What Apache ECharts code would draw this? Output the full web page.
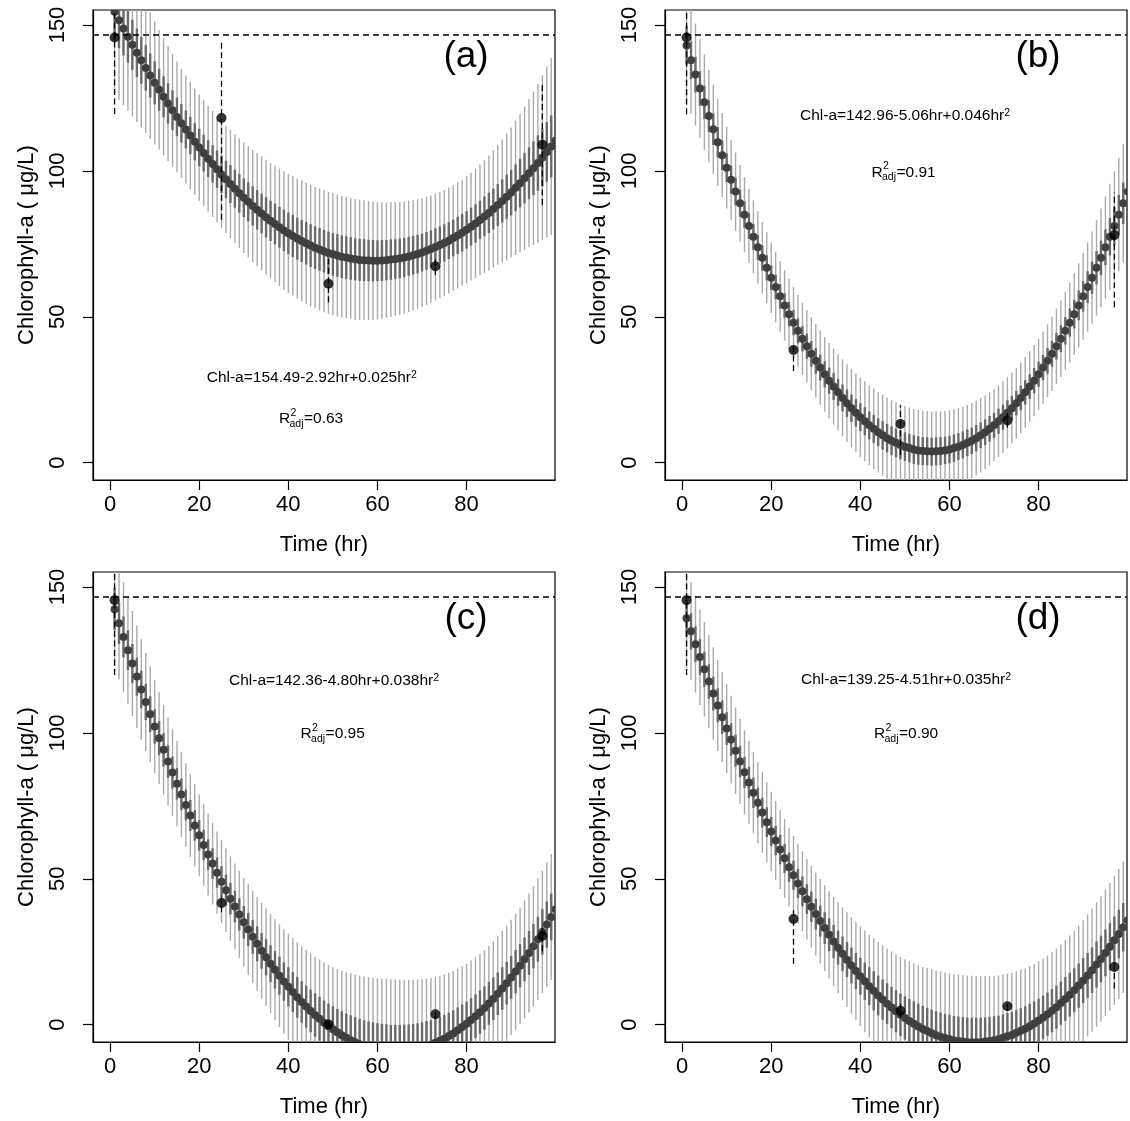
<!DOCTYPE html>
<html>
<head>
<meta charset="utf-8">
<script src="https://cdn.jsdelivr.net/npm/echarts@6/dist/echarts.min.js"></script>
<style>
html,body{margin:0;padding:0;background:#ffffff;}
#chart{width:1130px;height:1121px;}
</style>
</head>
<body>
<div id="chart"></div>
<script>
// ---------------- data ----------------
// x positions (hr) of the fitted dots / interval segments
const hours = [1,2,3,4,5,6,7,8,9,10,11,12,13,14,15,16,17,18,19,20,21,22,23,24,25,26,27,28,29,30,31,32,33,34,35,36,37,38,39,40,41,42,43,44,45,46,47,48,49,50,51,52,53,54,55,56,57,58,59,60,61,62,63,64,65,66,67,68,69,70,71,72,73,74,75,76,77,78,79,80,81,82,83,84,85,86,87,88,89,90,91,92,93,94,95,96,97,98,99,100,101];

const xTicks = [0, 20, 40, 60, 80];
const yTicks = [0, 50, 100, 150];
const refLevel = 146.5;
const obsHours = [1, 25, 49, 73, 97];

// panel (a)
const fitA = [154.5,151.6,148.8,146.0,143.2,140.5,137.9,135.3,132.7,130.2,
127.8,125.4,123.1,120.8,118.5,116.3,114.2,112.1,110.0,108.0,
106.1,104.2,102.4,100.6,98.8,97.1,95.5,93.9,92.3,90.8,
89.4,88.0,86.7,85.4,84.1,82.9,81.8,80.7,79.6,78.6,
77.7,76.8,76.0,75.2,74.4,73.7,73.1,72.5,71.9,71.4,
71.0,70.6,70.3,70.0,69.7,69.5,69.4,69.3,69.2,69.2,
69.3,69.4,69.6,69.8,70.0,70.3,70.7,71.1,71.5,72.0,
72.6,73.2,73.9,74.6,75.3,76.1,77.0,77.9,78.8,79.8,
80.9,82.0,83.2,84.4,85.6,86.9,88.3,89.7,91.1,92.6,
94.2,95.8,97.5,99.2,100.9,102.7,104.6,106.5,108.4,110.4,
112.5];
const outerA = [28.2,27.2,26.3,25.4,24.5,23.7,23.0,22.3,21.7,21.1,
20.5,20.1,19.7,19.3,19.0,18.7,18.5,18.4,18.2,18.2,
18.1,18.1,18.2,18.2,18.3,18.4,18.5,18.6,18.8,18.9,
19.1,19.2,19.4,19.5,19.7,19.8,20.0,20.1,20.3,20.4,
20.5,20.6,20.7,20.7,20.8,20.8,20.9,20.9,20.9,20.9,
20.9,20.8,20.8,20.7,20.7,20.6,20.5,20.4,20.3,20.1,
20.0,19.8,19.7,19.5,19.4,19.2,19.1,18.9,18.8,18.6,
18.5,18.4,18.3,18.2,18.2,18.1,18.1,18.2,18.2,18.4,
18.5,18.7,19.0,19.3,19.7,20.1,20.5,21.1,21.7,22.3,
23.0,23.7,24.5,25.4,26.3,27.2,28.2,29.3,30.4,31.5,
32.7];
const innerA = [9.9,9.5,9.2,8.9,8.6,8.3,8.0,7.8,7.6,7.4,
7.2,7.0,6.9,6.8,6.6,6.6,6.5,6.4,6.4,6.4,
6.3,6.3,6.4,6.4,6.4,6.4,6.5,6.5,6.6,6.6,
6.7,6.7,6.8,6.8,6.9,6.9,7.0,7.0,7.1,7.1,
7.2,7.2,7.2,7.3,7.3,7.3,7.3,7.3,7.3,7.3,
7.3,7.3,7.3,7.3,7.2,7.2,7.2,7.1,7.1,7.0,
7.0,6.9,6.9,6.8,6.8,6.7,6.7,6.6,6.6,6.5,
6.5,6.4,6.4,6.4,6.4,6.3,6.3,6.4,6.4,6.4,
6.5,6.6,6.6,6.8,6.9,7.0,7.2,7.4,7.6,7.8,
8.0,8.3,8.6,8.9,9.2,9.5,9.9,10.2,10.6,11.0,
11.4];
const obsA = [145.7, 118.1, 61.3, 67.3, 109.0];
const obsLoA = [119.5, 83.3, 55.0, 64.3, 88.3];
const obsHiA = [172.0, 144.5, 69.8, 70.5, 130.4];

// panel (b)
const fitB = [143.0,137.9,133.0,128.2,123.5,118.8,114.3,109.8,105.4,101.1,
97.0,92.9,88.9,85.0,81.1,77.4,73.8,70.2,66.8,63.4,
60.2,57.0,53.9,50.9,48.0,45.2,42.5,39.9,37.3,34.9,
32.6,30.3,28.1,26.1,24.1,22.2,20.4,18.7,17.1,15.6,
14.2,12.8,11.6,10.4,9.4,8.4,7.5,6.8,6.1,5.5,
5.0,4.5,4.2,4.0,3.9,3.8,3.9,4.0,4.2,4.5,
5.0,5.5,6.1,6.8,7.5,8.4,9.4,10.4,11.6,12.8,
14.2,15.6,17.1,18.7,20.4,22.2,24.1,26.1,28.1,30.3,
32.6,34.9,37.3,39.9,42.5,45.2,48.0,50.9,53.9,57.0,
60.2,63.4,66.8,70.2,73.8,77.4,81.1,85.0,88.9,92.9,
97.0];
const outerB = [18.8,18.2,17.5,16.9,16.4,15.8,15.3,14.9,14.4,14.0,
13.7,13.4,13.1,12.9,12.7,12.5,12.4,12.2,12.2,12.1,
12.1,12.1,12.1,12.1,12.2,12.3,12.3,12.4,12.5,12.6,
12.7,12.8,12.9,13.0,13.1,13.2,13.3,13.4,13.5,13.6,
13.7,13.7,13.8,13.8,13.9,13.9,13.9,13.9,13.9,13.9,
13.9,13.9,13.9,13.8,13.8,13.7,13.7,13.6,13.5,13.4,
13.3,13.2,13.1,13.0,12.9,12.8,12.7,12.6,12.5,12.4,
12.3,12.3,12.2,12.1,12.1,12.1,12.1,12.1,12.2,12.2,
12.4,12.5,12.7,12.9,13.1,13.4,13.7,14.0,14.4,14.9,
15.3,15.8,16.4,16.9,17.5,18.2,18.8,19.5,20.3,21.0,
21.8];
const innerB = [6.6,6.4,6.1,5.9,5.7,5.5,5.4,5.2,5.1,4.9,
4.8,4.7,4.6,4.5,4.4,4.4,4.3,4.3,4.3,4.2,
4.2,4.2,4.2,4.2,4.3,4.3,4.3,4.3,4.4,4.4,
4.4,4.5,4.5,4.6,4.6,4.6,4.7,4.7,4.7,4.8,
4.8,4.8,4.8,4.8,4.9,4.9,4.9,4.9,4.9,4.9,
4.9,4.9,4.9,4.8,4.8,4.8,4.8,4.8,4.7,4.7,
4.7,4.6,4.6,4.6,4.5,4.5,4.4,4.4,4.4,4.3,
4.3,4.3,4.3,4.2,4.2,4.2,4.2,4.2,4.3,4.3,
4.3,4.4,4.4,4.5,4.6,4.7,4.8,4.9,5.1,5.2,
5.4,5.5,5.7,5.9,6.1,6.4,6.6,6.8,7.1,7.4,
7.6];
const obsB = [145.7, 38.6, 13.3, 14.5, 78.0];
const obsLoB = [119.4, 31.4, 2.6, 12.0, 53.3];
const obsHiB = [172.0, 40.0, 19.6, 17.0, 92.5];

// panel (c)
const fitC = [142.4,137.6,132.9,128.3,123.8,119.3,114.9,110.6,106.4,102.2,
98.2,94.2,90.2,86.4,82.6,78.9,75.3,71.7,68.3,64.9,
61.6,58.3,55.2,52.1,49.0,46.1,43.2,40.5,37.8,35.1,
32.6,30.1,27.7,25.3,23.1,20.9,18.8,16.8,14.8,13.0,
11.2,9.4,7.8,6.2,4.7,3.3,2.0,0.7,-0.5,-1.6,
-2.6,-3.6,-4.5,-5.3,-6.0,-6.7,-7.3,-7.8,-8.2,-8.6,
-8.8,-9.0,-9.2,-9.2,-9.2,-9.1,-8.9,-8.7,-8.3,-7.9,
-7.4,-6.9,-6.2,-5.5,-4.8,-3.9,-3.0,-1.9,-0.8,0.3,
1.6,2.9,4.3,5.7,7.3,8.9,10.6,12.4,14.2,16.2,
18.2,20.2,22.4,24.6,26.9,29.3,31.8,34.3,36.9,39.6,
42.4];
const outerC = [19.5,19.2,18.8,18.4,18.0,17.6,17.2,16.8,16.4,16.0,
15.7,15.4,15.1,14.9,14.7,14.5,14.3,14.2,14.1,14.0,
14.0,14.0,14.0,14.1,14.2,14.3,14.5,14.7,14.9,15.2,
15.5,15.8,16.1,16.4,16.7,17.0,17.3,17.6,17.9,18.2,
18.5,18.8,19.1,19.4,19.7,20.0,20.3,20.6,20.9,21.3,
21.7,22.1,22.5,22.9,23.2,23.5,23.8,24.1,24.3,24.5,
24.6,24.7,24.7,24.7,24.6,24.5,24.3,24.1,23.8,23.5,
23.2,22.9,22.6,22.3,22.0,21.7,21.4,21.1,20.8,20.6,
20.4,20.2,20.0,19.9,19.8,19.7,19.7,19.7,19.7,19.8,
19.9,20.0,20.2,20.4,20.6,20.8,21.0,21.3,21.6,21.9,
22.2];
const innerC = [7.2,7.1,7.0,6.8,6.7,6.5,6.4,6.2,6.1,5.9,
5.8,5.7,5.6,5.5,5.4,5.4,5.3,5.3,5.2,5.2,
5.2,5.2,5.2,5.2,5.3,5.3,5.4,5.4,5.5,5.6,
5.7,5.8,6.0,6.1,6.2,6.3,6.4,6.5,6.6,6.7,
6.8,7.0,7.1,7.2,7.3,7.4,7.5,7.6,7.7,7.9,
8.0,8.2,8.3,8.5,8.6,8.7,8.8,8.9,9.0,9.1,
9.1,9.1,9.1,9.1,9.1,9.1,9.0,8.9,8.8,8.7,
8.6,8.5,8.4,8.3,8.1,8.0,7.9,7.8,7.7,7.6,
7.5,7.5,7.4,7.4,7.3,7.3,7.3,7.3,7.3,7.3,
7.4,7.4,7.5,7.5,7.6,7.7,7.8,7.9,8.0,8.1,
8.2];
const obsC = [145.5, 41.7, 0.1, 3.6, 30.4];
const obsLoC = [119.8, 38.5, -1.0, 2.2, 25.2];
const obsHiC = [172.0, 45.0, 1.2, 5.0, 33.2];

// panel (d)
const fitD = [139.3,134.8,130.4,126.0,121.8,117.6,113.5,109.4,105.4,101.5,
97.7,93.9,90.2,86.5,83.0,79.5,76.1,72.7,69.4,66.2,
63.1,60.0,57.0,54.0,51.2,48.4,45.7,43.0,40.4,37.9,
35.5,33.1,30.8,28.5,26.4,24.3,22.3,20.3,18.4,16.6,
14.9,13.2,11.6,10.0,8.6,7.2,5.9,4.6,3.4,2.3,
1.3,0.3,-0.6,-1.5,-2.2,-2.9,-3.6,-4.1,-4.6,-5.0,
-5.4,-5.6,-5.8,-6.0,-6.0,-6.0,-6.0,-5.8,-5.6,-5.3,
-5.0,-4.5,-4.0,-3.5,-2.8,-2.1,-1.4,-0.5,0.4,1.4,
2.5,3.6,4.8,6.0,7.4,8.8,10.3,11.8,13.4,15.1,
16.9,18.7,20.6,22.5,24.6,26.7,28.9,31.1,33.4,35.8,
38.3];
const outerD = [17.0,16.8,16.6,16.4,16.2,16.0,15.8,15.6,15.4,15.2,
15.0,14.8,14.6,14.4,14.2,14.0,13.9,13.8,13.7,13.6,
13.5,13.5,13.5,13.5,13.5,13.6,13.7,13.8,14.0,14.2,
14.4,14.7,15.0,15.3,15.6,15.9,16.2,16.5,16.8,17.1,
17.4,17.7,18.0,18.3,18.6,18.9,19.2,19.5,19.8,20.1,
20.4,20.7,21.0,21.3,21.6,21.9,22.1,22.3,22.5,22.6,
22.7,22.8,22.8,22.8,22.8,22.7,22.6,22.5,22.3,22.1,
21.9,21.7,21.5,21.3,21.1,20.9,20.7,20.5,20.4,20.3,
20.2,20.1,20.1,20.1,20.1,20.2,20.3,20.4,20.5,20.7,
20.9,21.1,21.3,21.5,21.7,21.9,22.1,22.3,22.5,22.7,
22.9];
const innerD = [6.3,6.2,6.1,6.1,6.0,5.9,5.8,5.8,5.7,5.6,
5.6,5.5,5.4,5.3,5.3,5.2,5.1,5.1,5.1,5.0,
5.0,5.0,5.0,5.0,5.0,5.0,5.1,5.1,5.2,5.3,
5.3,5.4,5.6,5.7,5.8,5.9,6.0,6.1,6.2,6.3,
6.4,6.5,6.7,6.8,6.9,7.0,7.1,7.2,7.3,7.4,
7.5,7.7,7.8,7.9,8.0,8.1,8.2,8.3,8.3,8.4,
8.4,8.4,8.4,8.4,8.4,8.4,8.4,8.3,8.3,8.2,
8.1,8.0,8.0,7.9,7.8,7.7,7.7,7.6,7.5,7.5,
7.5,7.4,7.4,7.4,7.4,7.5,7.5,7.5,7.6,7.7,
7.7,7.8,7.9,8.0,8.0,8.1,8.2,8.3,8.3,8.4,
8.5];
const obsD = [145.5, 36.2, 4.8, 6.3, 19.8];
const obsLoD = [119.8, 20.9, 2.5, 5.0, 12.4];
const obsHiD = [172.0, 40.0, 7.0, 7.6, 22.2];

// texts
const tags = ['(a)', '(b)', '(c)', '(d)'];
const equations = ['Chl-a=154.49-2.92hr+0.025hr', 'Chl-a=142.96-5.06hr+0.046hr', 'Chl-a=142.36-4.80hr+0.038hr', 'Chl-a=139.25-4.51hr+0.035hr'];
const r2Values = ['=0.63', '=0.91', '=0.95', '=0.90'];
const xTitle = 'Time (hr)';
const yTitle = 'Chlorophyll-a ( \u03bcg/L)';

// ---------------- layout / style ----------------
const FONT = '"Liberation Sans", Arial, Helvetica, sans-serif';
const boxes = [
  {left: 93, top: 10}, {left: 665, top: 10},
  {left: 93, top: 572}, {left: 665, top: 572}
];
const BOX_W = 462, BOX_H = 470;
const eqPos = [[206.7, 378], [800, 116], [229, 681], [801, 680]];
const rPos = [[279, 419], [871.5, 172.5], [300.6, 734], [874, 734]];

const panels = [
  {fit: fitA, outer: outerA, inner: innerA, obs: obsA, lo: obsLoA, hi: obsHiA},
  {fit: fitB, outer: outerB, inner: innerB, obs: obsB, lo: obsLoB, hi: obsHiB},
  {fit: fitC, outer: outerC, inner: innerC, obs: obsC, lo: obsLoC, hi: obsHiC},
  {fit: fitD, outer: outerD, inner: innerD, obs: obsD, lo: obsLoD, hi: obsHiD}
];

function segRenderer(color, width, dash) {
  return function (params, api) {
    const x = api.value(0);
    const p1 = api.coord([x, api.value(1)]);
    const p2 = api.coord([x, api.value(2)]);
    const style = {stroke: color, lineWidth: width, fill: null};
    if (dash) style.lineDash = dash;
    return {type: 'line', shape: {x1: p1[0], y1: p1[1], x2: p2[0], y2: p2[1]}, style: style};
  };
}
function dotRenderer(color, r) {
  return function (params, api) {
    const p = api.coord([api.value(0), api.value(1)]);
    return {type: 'circle', shape: {cx: p[0], cy: p[1], r: r}, style: {fill: color}};
  };
}

const grids = [], xAxes = [], yAxes = [], series = [], graphics = [];

panels.forEach(function (p, i) {
  const b = boxes[i];
  grids.push({left: b.left, top: b.top, width: BOX_W, height: BOX_H, show: true,
    borderColor: '#000', borderWidth: 1.2, backgroundColor: 'transparent', containLabel: false});
  xAxes.push({
    type: 'value', gridIndex: i, min: -3.84, max: 99.84,
    axisLine: {show: true, onZero: false, lineStyle: {color: '#000', width: 1.2}},
    axisTick: {show: true, inside: false, length: 10, customValues: xTicks, lineStyle: {color: '#000', width: 1.2}},
    axisLabel: {show: true, customValues: xTicks, fontSize: 22, color: '#000', fontFamily: FONT, margin: 14},
    splitLine: {show: false}
  });
  yAxes.push({
    type: 'value', gridIndex: i, min: -5.93, max: 155.14,
    axisLine: {show: true, onZero: false, lineStyle: {color: '#000', width: 1.2}},
    axisTick: {show: true, inside: false, length: 10, customValues: yTicks, lineStyle: {color: '#000', width: 1.2}},
    axisLabel: {show: true, customValues: yTicks, rotate: 90, fontSize: 22, color: '#000', fontFamily: FONT, margin: 24},
    splitLine: {show: false}
  });

  const outerData = hours.map(function (h, j) { return [h, p.fit[j] - p.outer[j], p.fit[j] + p.outer[j]]; });
  const innerData = hours.map(function (h, j) { return [h, p.fit[j] - p.inner[j], p.fit[j] + p.inner[j]]; });
  const fitData = hours.map(function (h, j) { return [h, p.fit[j]]; });
  const barData = obsHours.map(function (h, j) { return [h, p.lo[j], p.hi[j]]; });
  const obsData = obsHours.map(function (h, j) { return [h, p.obs[j]]; });

  series.push({type: 'custom', xAxisIndex: i, yAxisIndex: i, clip: true, silent: true,
    renderItem: segRenderer('#aaaaaa', 1.4), data: outerData, encode: {x: 0, y: [1, 2]}, z: 2});
  series.push({type: 'custom', xAxisIndex: i, yAxisIndex: i, clip: true, silent: true,
    renderItem: segRenderer('#6a6a6a', 2.4), data: innerData, encode: {x: 0, y: [1, 2]}, z: 3});
  series.push({type: 'custom', xAxisIndex: i, yAxisIndex: i, clip: true, silent: true,
    renderItem: dotRenderer('#3f3f3f', 4), data: fitData, encode: {x: 0, y: 1}, z: 4});
  series.push({type: 'custom', xAxisIndex: i, yAxisIndex: i, clip: true, silent: true,
    renderItem: segRenderer('#000000', 1.3, [6, 3.5]), data: barData, encode: {x: 0, y: [1, 2]}, z: 5});
  series.push({type: 'scatter', xAxisIndex: i, yAxisIndex: i, symbol: 'circle', symbolSize: 10,
    itemStyle: {color: '#000'}, data: obsData, z: 6, silent: true,
    markLine: {silent: true, symbol: ['none', 'none'], label: {show: false},
      lineStyle: {color: '#000', type: [6, 4], width: 1.5}, data: [{yAxis: refLevel}]}});

  const ox = b.left - 93, oy = b.top - 10;
  graphics.push({type: 'text', x: 466 + ox, y: 57 + oy,
    style: {text: tags[i], font: '37px ' + FONT, fill: '#000', align: 'center', verticalAlign: 'middle', textAlign: 'center', textVerticalAlign: 'middle'}});
  graphics.push({type: 'text', x: 324 + ox, y: 545 + oy,
    style: {text: xTitle, font: '22px ' + FONT, fill: '#000', align: 'center', verticalAlign: 'middle', textAlign: 'center', textVerticalAlign: 'middle'}});
  graphics.push({type: 'text', x: 27 + ox, y: 245 + oy, rotation: Math.PI / 2,
    style: {text: yTitle, font: '22px ' + FONT, fill: '#000', align: 'center', verticalAlign: 'middle', textAlign: 'center', textVerticalAlign: 'middle'}});
  graphics.push({type: 'text', x: eqPos[i][0], y: eqPos[i][1],
    style: {text: equations[i] + '{s|2}', font: '15.5px ' + FONT, fill: '#000', align: 'left', verticalAlign: 'middle', textAlign: 'left', textVerticalAlign: 'middle',
      rich: {s: {fontSize: 10.5, fontFamily: FONT, fill: '#000', verticalAlign: 'top'}}}});
  const rx = rPos[i][0], ry = rPos[i][1];
  graphics.push({type: 'text', x: rx, y: ry,
    style: {text: 'R', font: '15.5px ' + FONT, fill: '#000', align: 'left', verticalAlign: 'middle', textAlign: 'left', textVerticalAlign: 'middle'}});
  graphics.push({type: 'text', x: rx + 11.5, y: ry - 6,
    style: {text: '2', font: '10.5px ' + FONT, fill: '#000', align: 'left', verticalAlign: 'middle', textAlign: 'left', textVerticalAlign: 'middle'}});
  graphics.push({type: 'text', x: rx + 10.5, y: ry + 5,
    style: {text: 'adj', font: '10.5px ' + FONT, fill: '#000', align: 'left', verticalAlign: 'middle', textAlign: 'left', textVerticalAlign: 'middle'}});
  graphics.push({type: 'text', x: rx + 25, y: ry,
    style: {text: r2Values[i], font: '15.5px ' + FONT, fill: '#000', align: 'left', verticalAlign: 'middle', textAlign: 'left', textVerticalAlign: 'middle'}});
});

const chart = echarts.init(document.getElementById('chart'), null, {renderer: 'canvas'});
chart.setOption({
  backgroundColor: '#ffffff',
  animation: false,
  textStyle: {fontFamily: FONT},
  grid: grids,
  xAxis: xAxes,
  yAxis: yAxes,
  series: series,
  graphic: {elements: graphics}
});
</script>
</body>
</html>
